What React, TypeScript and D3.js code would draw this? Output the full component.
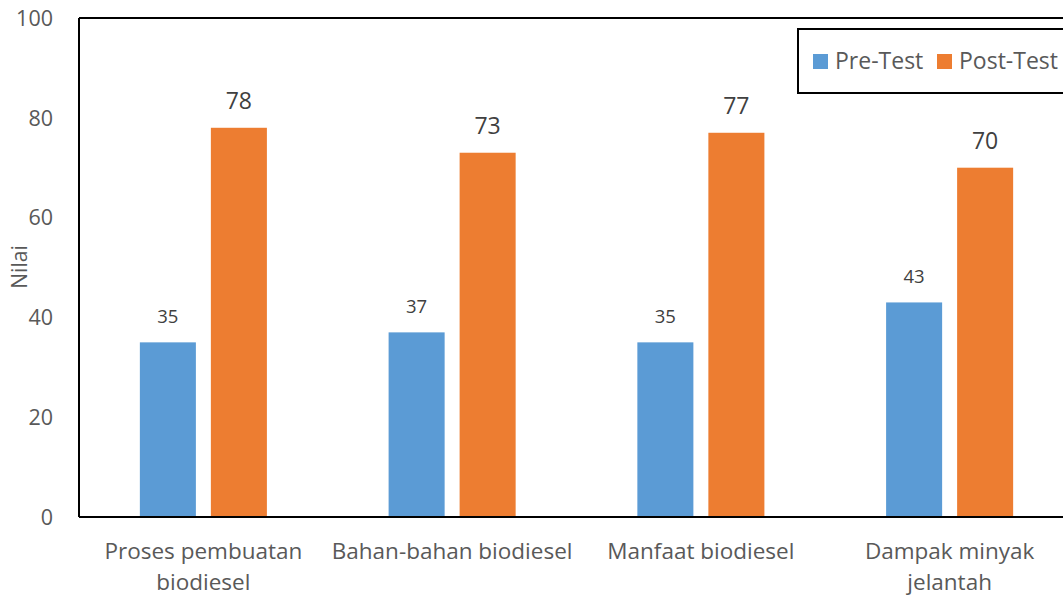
import { useEffect, useRef } from 'react';
import { select, scaleBand, scaleLinear } from 'd3';

const categories = [
  ['Proses pembuatan', 'biodiesel'],
  ['Bahan-bahan biodiesel'],
  ['Manfaat biodiesel'],
  ['Dampak minyak', 'jelantah'],
];
const preTest = [35, 37, 35, 43];
const postTest = [78, 73, 77, 70];
const yTicks = [0, 20, 40, 60, 80, 100];
const seriesNames = ['Pre-Test', 'Post-Test'];

const colors = ['#5B9BD5', '#ED7D31'];
const textColor = '#595959';
const font = '"Open Sans", sans-serif';

export default function App() {
  const svgRef = useRef<SVGSVGElement>(null);

  useEffect(() => {
    if (!svgRef.current) return;
    const svg = select(svgRef.current);
    svg.selectAll('*').remove();

    const left = 79;
    const top = 18;
    const bottom = 517;
    const right = 1074;

    const x = scaleBand<number>()
      .domain(categories.map((_, i) => i))
      .range([left, right]);
    const inner = scaleBand<number>()
      .domain([0, 1])
      .range([0, x.bandwidth()])
      .paddingInner(0.211)
      .paddingOuter(0.857);
    const y = scaleLinear().domain([0, 100]).range([bottom, top]);

    const g = svg.append('g');

    // bars + labels
    const series = [preTest, postTest];
    series.forEach((vals, s) => {
      g.selectAll(`.bar${s}`)
        .data(vals)
        .enter()
        .append('rect')
        .attr('x', (_, i) => (x(i) ?? 0) + (inner(s) ?? 0))
        .attr('y', (d) => y(d))
        .attr('width', inner.bandwidth())
        .attr('height', (d) => bottom - y(d))
        .attr('fill', colors[s]);

      g.selectAll(`.lbl${s}`)
        .data(vals)
        .enter()
        .append('text')
        .attr('x', (_, i) => (x(i) ?? 0) + (inner(s) ?? 0) + inner.bandwidth() / 2)
        .attr('y', (d) => y(d) - 19)
        .attr('text-anchor', 'middle')
        .attr('font-family', font)
        .attr('font-size', s === 0 ? 18.5 : 23)
        .attr('fill', '#404040')
        .text((d) => d);
    });

    // axis / frame lines
    const frame = [
      [left, top, left, bottom],
      [left, top, right, top],
      [left, bottom, right, bottom],
    ];
    frame.forEach(([x1, y1, x2, y2]) => {
      g.append('line')
        .attr('x1', x1).attr('y1', y1).attr('x2', x2).attr('y2', y2)
        .attr('stroke', '#000').attr('stroke-width', 2);
    });

    // y tick labels
    g.selectAll('.ytick')
      .data(yTicks)
      .enter()
      .append('text')
      .attr('x', 53)
      .attr('y', (d) => y(d))
      .attr('dy', '0.36em')
      .attr('text-anchor', 'end')
      .attr('font-family', font)
      .attr('font-size', 21.5)
      .attr('fill', textColor)
      .text((d) => d);

    // category labels
    categories.forEach((lines, i) => {
      const cx = (x(i) ?? 0) + x.bandwidth() / 2;
      lines.forEach((line, j) => {
        g.append('text')
          .attr('x', cx)
          .attr('y', 559 + j * 31)
          .attr('text-anchor', 'middle')
          .attr('font-family', font)
          .attr('font-size', 22.5)
          .attr('fill', textColor)
          .text(line);
      });
    });

    // y axis title
    g.append('text')
      .attr('transform', 'translate(27,267) rotate(-90)')
      .attr('text-anchor', 'middle')
      .attr('font-family', font)
      .attr('font-size', 21)
      .attr('fill', textColor)
      .text('Nilai');

    // legend
    const lg = g.append('g');
    lg.append('rect')
      .attr('x', 798).attr('y', 29).attr('width', 280).attr('height', 64)
      .attr('fill', '#fff').attr('stroke', '#000').attr('stroke-width', 2);
    const legendX = [813, 937];
    seriesNames.forEach((name, s) => {
      lg.append('rect')
        .attr('x', legendX[s]).attr('y', 54).attr('width', 15).attr('height', 15)
        .attr('fill', colors[s]);
      lg.append('text')
        .attr('x', legendX[s] + 22)
        .attr('y', 61)
        .attr('dy', '0.36em')
        .attr('font-family', font)
        .attr('font-size', 23)
        .attr('fill', textColor)
        .text(name);
    });
  }, []);

  return (
    <svg
      ref={svgRef}
      width={1063}
      height={597}
      style={{ position: 'absolute', left: 0, top: 0, background: '#fff' }}
    />
  );
}
